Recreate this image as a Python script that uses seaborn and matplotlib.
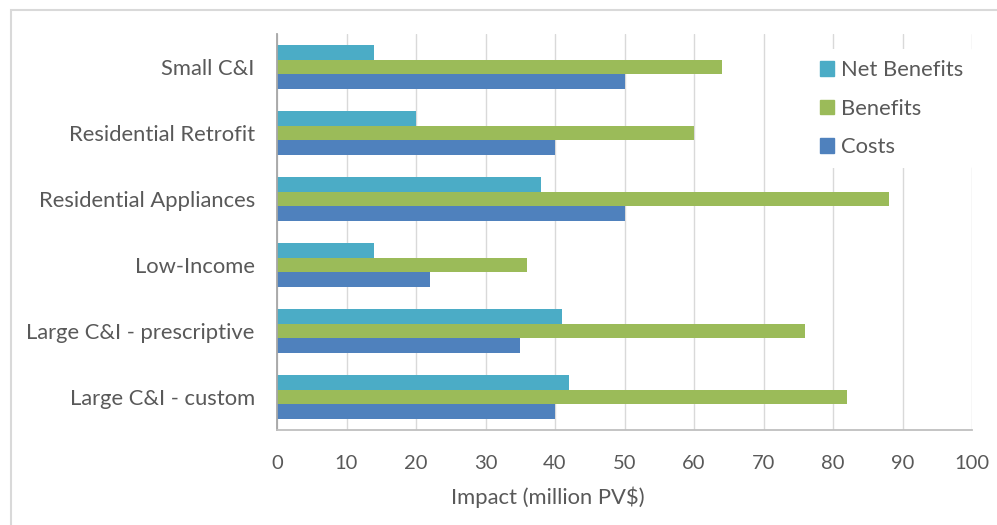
import matplotlib
matplotlib.use("Agg")
import matplotlib.pyplot as plt
import matplotlib.patches as mpatches
import seaborn as sns
import pandas as pd

categories = ["Small C&I", "Residential Retrofit", "Residential Appliances",
              "Low-Income", "Large C&I - prescriptive", "Large C&I - custom"]
net_benefits = [14, 20, 38, 14, 41, 42]
benefits = [64, 60, 88, 36, 76, 82]
costs = [50, 40, 50, 22, 35, 40]
series_names = ["Net Benefits", "Benefits", "Costs"]
colors = ["#4BACC6", "#9BBB59", "#4F81BD"]
xticks = [0, 10, 20, 30, 40, 50, 60, 70, 80, 90, 100]

rows = []
for name, vals in zip(series_names, [net_benefits, benefits, costs]):
    for c, v in zip(categories, vals):
        rows.append({"category": c, "series": name, "value": v})
df = pd.DataFrame(rows)

sns.set_theme(style="white")
plt.rcParams['font.family'] = ['Lato', 'DejaVu Sans']
text_color = "#595959"
fs = 15.8

fig = plt.figure(figsize=(9.97, 5.25), dpi=100)
ax = fig.add_axes([277/997, 1-430/525, 695/997, 396/525])

sns.barplot(data=df, y="category", x="value", hue="series", order=categories,
            hue_order=series_names, palette=colors, orient="h", width=0.667,
            saturation=1, ax=ax, legend=True, linewidth=0)

ax.set_xlim(0, 100)
ax.set_ylim(5.5, -0.5)
ax.set_xticks(xticks)
ax.set_xticklabels([str(t) for t in xticks])
ax.grid(axis="x", color="#D9D9D9", linewidth=1)
ax.set_axisbelow(True)
for s in ["top", "right"]:
    ax.spines[s].set_visible(False)
ax.spines["left"].set_color("#A6A6A6")
ax.spines["bottom"].set_color("#BFBFBF")
ax.spines["left"].set_linewidth(1.3)
ax.spines["bottom"].set_linewidth(1.3)
ax.tick_params(axis="both", length=0, labelcolor=text_color)
ax.tick_params(axis="x", pad=18, labelsize=14.5)
ax.tick_params(axis="y", pad=16, labelsize=fs)
ax.set_ylabel("")
ax.set_xlabel("Impact (million PV$)", fontsize=fs, color=text_color)
ax.xaxis.set_label_coords((548-277)/695, (430-487)/396)

handles = [mpatches.Patch(color=c, label=n) for c, n in zip(colors, series_names)]
leg = ax.legend(handles=handles, loc="upper left",
                bbox_to_anchor=((798-277)/695, 1-(38-34)/396),
                frameon=True, fontsize=fs, labelspacing=0.85, handlelength=0.65,
                handleheight=0.65, handletextpad=0.3, borderpad=0.5)
leg.get_frame().set_facecolor("white")
leg.get_frame().set_edgecolor("none")
leg.get_frame().set_alpha(1)
for t in leg.get_texts():
    t.set_color(text_color)

border = mpatches.Rectangle((11/997, -0.01), 1.02 - 11/997, 1 - 10/525 + 0.01,
                            transform=fig.transFigure, fill=False,
                            edgecolor="#D9D9D9", linewidth=1.5, clip_on=False)
fig.patches.append(border)

fig.savefig("out.png", dpi=100)
